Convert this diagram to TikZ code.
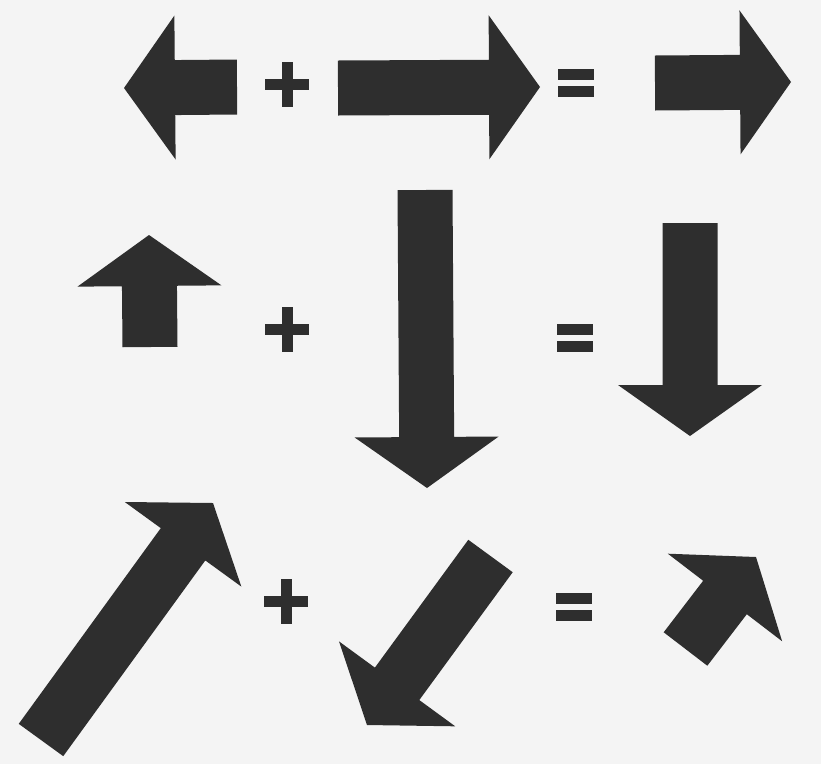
\documentclass[tikz,border=0pt]{standalone}
\usepackage{xcolor}
\usepackage{tikz}
\usetikzlibrary{calc}

\definecolor{ink}{HTML}{2E2E2E}
\definecolor{paper}{HTML}{F4F4F4}

\begin{document}
\begin{tikzpicture}[
  x=1pt, y=-1pt,
  vec/.style={fill=ink, to path={
      ($(\tikztostart)!27.5pt!90:(\tikztotarget)$)
      -- ($(\tikztotarget)!51pt!(\tikztostart)!27.5pt!90:(\tikztotarget)$)
      -- ($(\tikztotarget)!51pt!(\tikztostart)!72pt!90:(\tikztotarget)$)
      -- (\tikztotarget)
      -- ($(\tikztotarget)!51pt!(\tikztostart)!72pt!-90:(\tikztotarget)$)
      -- ($(\tikztotarget)!51pt!(\tikztostart)!27.5pt!-90:(\tikztotarget)$)
      -- ($(\tikztostart)!27.5pt!-90:(\tikztotarget)$)
      -- cycle}},
  plussign/.pic={
    \fill[ink] (-22,-5.5) rectangle (22,5.5);
    \fill[ink] (-5.5,-22.5) rectangle (5.5,22.5);},
  eqsign/.pic={
    \fill[ink] (-18,-14) rectangle (18,-3);
    \fill[ink] (-18,3) rectangle (18,14);},
]
  \fill[paper] (0,0) rectangle (821,764);
  \useasboundingbox (0,0) rectangle (821,764);

  % ---------------- row 1: left + right = right ----------------
  \coordinate (a1) at (237,87);   \coordinate (a1h) at (124,88);
  \coordinate (b1) at (338,88);   \coordinate (b1h) at (540,87);
  \coordinate (s1) at (655,83);   \coordinate (s1h) at (791,82);
  \path[vec] (a1) to (a1h);
  \pic (plus1) at (287,84) {plussign};
  \path[vec] (b1) to (b1h);
  \pic (eq1) at (575.5,83) {eqsign};
  \path[vec] (s1) to (s1h);

  % ---------------- row 2: up + down = down ----------------
  \coordinate (a2) at (150,347);  \coordinate (a2h) at (149,235);
  \coordinate (b2) at (425,190);  \coordinate (b2h) at (427,488);
  \coordinate (s2) at (690,223);  \coordinate (s2h) at (690,436);
  \path[vec] (a2) to (a2h);
  \pic (plus2) at (287,329) {plussign};
  \path[vec] (b2) to (b2h);
  \pic (eq2) at (575,338) {eqsign};
  \path[vec] (s2) to (s2h);

  % ---------------- row 3: slanted vectors ----------------
  \coordinate (a3) at (41,740);     \coordinate (a3h) at (213,503);
  \coordinate (b3) at (490.5,556);  \coordinate (b3h) at (367,725);
  \coordinate (s3) at (685.5,649);  \coordinate (s3h) at (756,557);
  \path[vec] (a3) to (a3h);
  \pic (plus3) at (286,601) {plussign};
  \path[vec] (b3) to (b3h);
  \pic (eq3) at (574,607) {eqsign};
  \path[vec] (s3) to (s3h);
\end{tikzpicture}
\end{document}
